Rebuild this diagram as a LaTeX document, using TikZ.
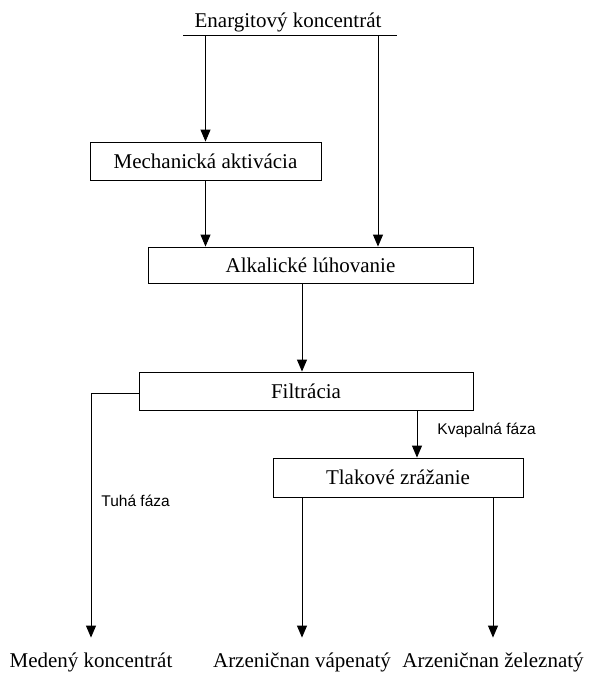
\documentclass[tikz,border=0pt]{standalone}
\usepackage{fontspec}
\setmainfont{Liberation Serif}
\newfontfamily\sansf{Liberation Sans}
\usetikzlibrary{arrows.meta,calc}
\begin{document}
\begin{tikzpicture}[x=1pt,y=-1pt,
  line width=0.9pt,
  box/.style={draw, line width=0.9pt, inner sep=0pt, font=\fontsize{21}{25}\selectfont},
  arr/.style={-{Triangle[width=10pt,length=12pt]}},
  lbl/.style={font=\fontsize{21}{25}\selectfont, inner sep=0pt},
  outlbl/.style={font=\fontsize{21}{25}\selectfont, inner sep=0pt, anchor=base, text height=29pt},
  side/.style={font=\sansf\fontsize{15.5}{18}\selectfont, inner sep=0pt, anchor=west}]
\useasboundingbox (0,0) rectangle (589,686);
% title and feed line
\node[lbl, anchor=base] (title) at (288,27) {Enargitový koncentrát};
\coordinate (tl) at (183,35);
\coordinate (tr) at (397,35);
\coordinate (tr2) at (378,35);
\draw (tl) -- (tr);
% boxes
\node[box, minimum width=231pt, minimum height=38pt] (mech) at (205.5,161) {Mechanická aktivácia};
\node[box, minimum width=325pt, minimum height=36pt] (alk) at (310.5,265) {Alkalické lúhovanie};
\node[box, minimum width=334pt, minimum height=38pt] (filt) at (306,391) {Filtrácia};
\node[box, minimum width=250pt, minimum height=39pt] (tlak) at (398,477.5) {Tlakové zrážanie};
% outputs
\node[outlbl] (med) at (91,667) {Medený koncentrát};
\node[outlbl] (vap) at (302,667) {Arzeničnan vápenatý};
\node[outlbl] (zel) at (493,667) {Arzeničnan železnatý};
% side labels
\node[side] (kvap) at (437,430) {Kvapalná fáza};
\node[side] (tuha) at (101,501) {Tuhá fáza};
% connectors
\draw[arr] (mech.north |- tl) -- (mech.north);
\draw[arr] (tr2) -- (tr2 |- alk.north);
\draw[arr] (mech.south) -- (mech.south |- alk.north);
\draw[arr] ([xshift=-8.5pt]alk.south) -- ([xshift=-8.5pt]alk.south |- filt.north);
\draw[arr] ([yshift=-2pt]filt.west) -| (med.north);
\draw[arr] ([xshift=111pt]filt.south) -- ([xshift=111pt]filt.south |- tlak.north);
\draw[arr] (vap.north |- tlak.south) -- (vap.north);
\draw[arr] (zel.north |- tlak.south) -- (zel.north);
\end{tikzpicture}
\end{document}
